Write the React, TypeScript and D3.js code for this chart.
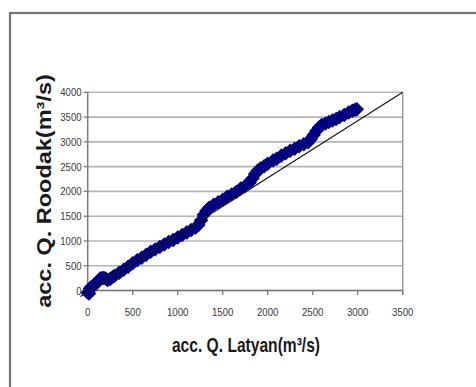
import * as d3 from 'd3';

// accumulated discharge
const latyan = [
  0, 15, 25, 40, 60, 80, 100, 120, 140, 160, 180, 200, 220, 250, 275, 300,
  350, 400, 450, 500, 550, 600, 650, 700, 750, 800, 850, 900, 950, 1000,
  1050, 1100, 1150, 1200, 1230, 1260, 1290, 1320, 1350, 1400, 1450, 1500,
  1550, 1600, 1650, 1700, 1750, 1800, 1830, 1860, 1890, 1920, 1960, 2000,
  2060, 2100, 2150, 2200, 2250, 2300, 2350, 2400, 2450, 2480, 2510, 2540,
  2570, 2600, 2640, 2680, 2720, 2760, 2800, 2850, 2900, 2940, 2970, 2990,
];
const roodak = [
  -40, -60, 40, 70, 90, 120, 150, 200, 240, 250, 250, 240, 210, 230, 270, 300,
  360, 420, 480, 550, 610, 660, 720, 780, 830, 880, 930, 980, 1020, 1070,
  1120, 1170, 1220, 1270, 1320, 1420, 1530, 1610, 1670, 1730, 1780, 1830,
  1890, 1940, 1990, 2060, 2110, 2180, 2260, 2350, 2420, 2460, 2510, 2560,
  2625, 2660, 2720, 2770, 2820, 2860, 2910, 2950, 2990, 3060, 3140, 3220,
  3290, 3340, 3370, 3400, 3430, 3460, 3500, 3540, 3590, 3630, 3650, 3660,
];

// reference line end points
const refX = [-80, 3500];
const refY = [-120, 4000];

const xTicks = [0, 500, 1000, 1500, 2000, 2500, 3000, 3500];
const yTicks = [0, 500, 1000, 1500, 2000, 2500, 3000, 3500, 4000];

const W = 476;
const H = 387;

export default function App() {
  const x = d3.scaleLinear().domain([0, 3500]).range([87.7, 402.7]);
  const y = d3.scaleLinear().domain([0, 4000]).range([290.5, 92.3]);

  const points = latyan.map((v, i) => [v, roodak[i]] as [number, number]);
  const refLine = d3
    .line<number>()
    .x((d) => x(refX[d]))
    .y((d) => y(refY[d]))([0, 1]);
  const marker = d3.symbol(d3.symbolSquare, 105)() || '';

  const font = '"Liberation Sans", Arial, sans-serif';
  const sx = 0.84;

  return (
    <svg
      width={W}
      height={H}
      style={{ position: 'fixed', left: 0, top: 0, background: '#fff' }}
    >
      {/* outer frame, cut by the page edges */}
      <rect x={10} y={13} width={520} height={420} fill="none" stroke="#747474" strokeWidth={2.2} />

      {/* grid */}
      {yTicks.map((t) => (
        <line key={'g' + t} x1={x(0)} x2={x(3500)} y1={y(t)} y2={y(t)} stroke="#b4b4b4" strokeWidth={1.6} />
      ))}
      <line x1={x(3500)} x2={x(3500)} y1={y(4000)} y2={y(0) + 4} stroke="#9a9a9a" strokeWidth={1.5} />

      {/* axes */}
      <line x1={x(0)} x2={x(0)} y1={y(4000)} y2={y(0)} stroke="#7a7a7a" strokeWidth={1.5} />
      <line x1={x(0)} x2={x(3500)} y1={y(0)} y2={y(0)} stroke="#7a7a7a" strokeWidth={1.5} />
      {yTicks.map((t) => (
        <line key={'yt' + t} x1={x(0) - 4} x2={x(0)} y1={y(t)} y2={y(t)} stroke="#7a7a7a" strokeWidth={1.3} />
      ))}
      {xTicks.map((t) => (
        <line key={'xt' + t} x1={x(t)} x2={x(t)} y1={y(0)} y2={y(0) + 4.5} stroke="#7a7a7a" strokeWidth={1.3} />
      ))}

      {/* tick labels */}
      {yTicks.map((t) => (
        <text
          key={'yl' + t}
          transform={`translate(${x(0) - 6},${y(t) + 4}) scale(${sx},1)`}
          textAnchor="end"
          fontFamily={font}
          fontSize={11.5}
          fill="#3a3a3a"
        >
          {t}
        </text>
      ))}
      {xTicks.map((t) => (
        <text
          key={'xl' + t}
          transform={`translate(${x(t)},${315.5}) scale(${sx},1)`}
          textAnchor="middle"
          fontFamily={font}
          fontSize={11.5}
          fill="#3a3a3a"
        >
          {t}
        </text>
      ))}

      {/* data */}
      <g fill="#000080">
        {points.map((d, i) => (
          <path key={i} d={marker} transform={`translate(${x(d[0])},${y(d[1])}) rotate(45)`} />
        ))}
      </g>
      <path d={refLine || ''} stroke="#1a1a1a" strokeWidth={1.3} fill="none" />

      {/* titles */}
      <text
        transform={`translate(246,352) scale(0.8,1)`}
        textAnchor="middle"
        fontFamily={font}
        fontWeight="bold"
        fontSize={19.5}
        fill="#1a1a1a"
      >
        acc. Q. Latyan(m³/s)
      </text>
      <text
        transform={`translate(50.5,191) scale(${sx},1) rotate(-90)`}
        textAnchor="middle"
        fontFamily={font}
        fontWeight="bold"
        fontSize={23.5}
        fill="#1a1a1a"
      >
        acc. Q. Roodak(m³/s)
      </text>
    </svg>
  );
}
